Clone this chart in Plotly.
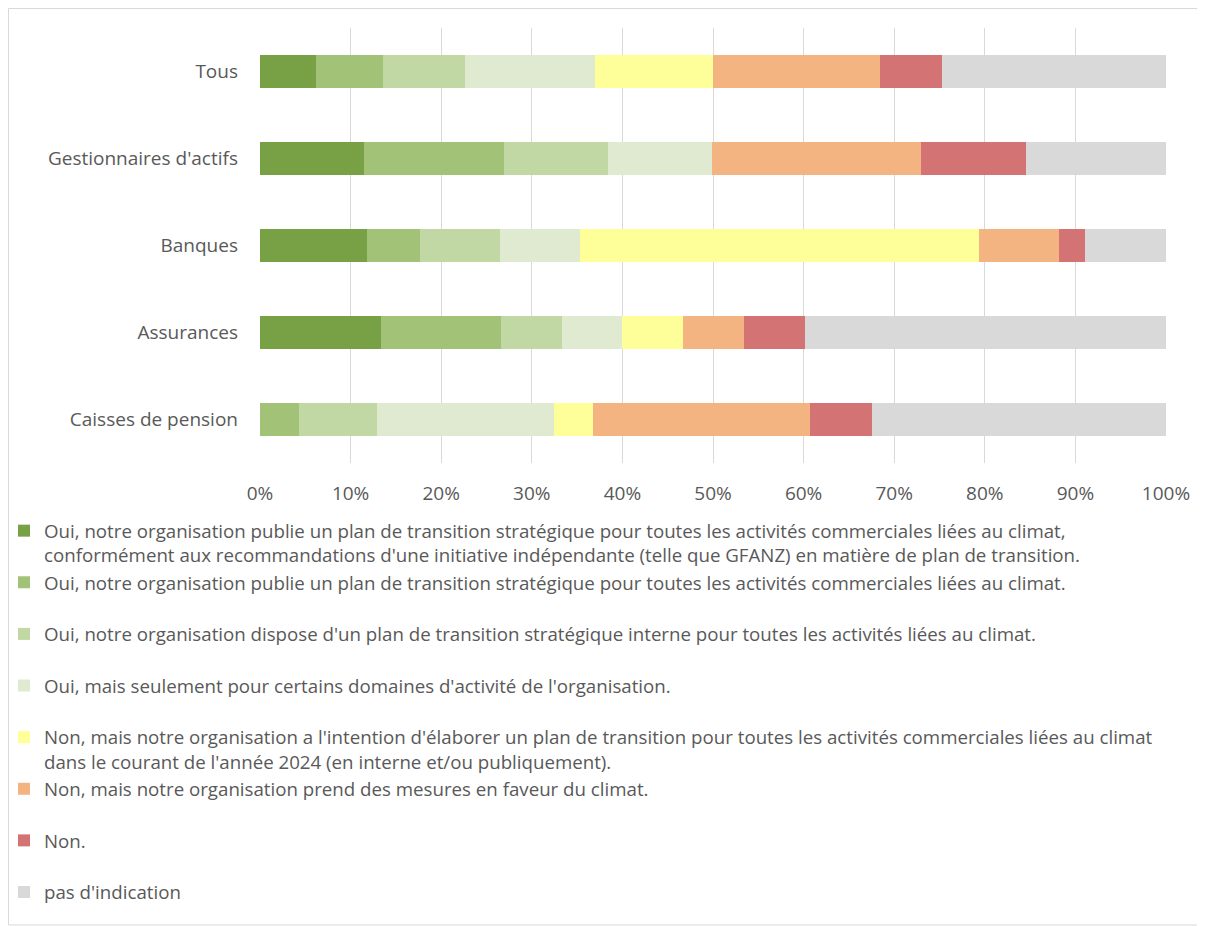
import plotly.graph_objects as go

categories = ["Tous", "Gestionnaires d'actifs", "Banques", "Assurances", "Caisses de pension"]

series_names = [
    "Oui, notre organisation publie un plan de transition stratégique pour toutes les activités commerciales liées au climat,<br>conformément aux recommandations d'une initiative indépendante (telle que GFANZ) en matière de plan de transition.",
    "Oui, notre organisation publie un plan de transition stratégique pour toutes les activités commerciales liées au climat.<br> ",
    "Oui, notre organisation dispose d'un plan de transition stratégique interne pour toutes les activités liées au climat.<br> ",
    "Oui, mais seulement pour certains domaines d'activité de l'organisation.<br> ",
    "Non, mais notre organisation a l'intention d'élaborer un plan de transition pour toutes les activités commerciales liées au climat<br>dans le courant de l'année 2024 (en interne et/ou publiquement).",
    "Non, mais notre organisation prend des mesures en faveur du climat.<br> ",
    "Non.<br> ",
    "pas d'indication<br> ",
]

s1 = [6.2, 11.5, 11.8, 13.3, 0.0]
s2 = [7.4, 15.4, 5.9, 13.3, 4.3]
s3 = [9.0, 11.5, 8.8, 6.7, 8.6]
s4 = [14.4, 11.5, 8.8, 6.7, 19.6]
s5 = [13.0, 0.0, 44.1, 6.7, 4.3]
s6 = [18.4, 23.1, 8.8, 6.7, 23.9]
s7 = [6.9, 11.5, 2.9, 6.7, 6.9]
s8 = [24.7, 15.5, 8.9, 39.9, 32.4]

series_values = [s1, s2, s3, s4, s5, s6, s7, s8]
colors = ["#78A044", "#A2C277", "#C1D8A4", "#DFEAD0", "#FFFF99", "#F4B482", "#D47374", "#D9D9D9"]

x_tickvals = [0, 10, 20, 30, 40, 50, 60, 70, 80, 90, 100]
x_ticktext = ["0%", "10%", "20%", "30%", "40%", "50%", "60%", "70%", "80%", "90%", "100%"]

FONT = "Open Sans"
FS = 19
LEG_FS = 18.7
TXT = "#595959"

# page is rendered with an 8px body margin; compensate
OFF = 8
PAGE_W, PAGE_H = 1205, 926
W, H = PAGE_W - OFF, PAGE_H - OFF
PLOT_L, PLOT_R, PLOT_T, PLOT_B = 260, 1166, 28, 463   # page coordinates
ML = PLOT_L - OFF
MR = W - (PLOT_R - OFF)
MT = PLOT_T - OFF
MB = H - (PLOT_B - OFF)

fig = go.Figure()
for i, (name, vals, col) in enumerate(zip(series_names, series_values, colors)):
    fig.add_trace(go.Bar(
        y=categories, x=vals, name=name, orientation="h",
        marker=dict(color=col, line=dict(width=0)),
        legendgroup=f"g{i}",
        hoverinfo="x+y",
    ))

pw = W - ML - MR
ph = H - MT - MB

def px_x(px):
    return (px - OFF - ML) / pw

def px_y(py):
    return 1 - (py - OFF - MT) / ph

fig.update_layout(
    width=W, height=H,
    barmode="stack",
    bargap=0.61,
    plot_bgcolor="white",
    paper_bgcolor="white",
    margin=dict(l=ML, r=MR, t=MT, b=MB, autoexpand=False),
    font=dict(family=FONT, size=FS, color=TXT),
    xaxis=dict(
        range=[0, 100], tickvals=x_tickvals, ticktext=x_ticktext,
        showgrid=True, gridcolor="#D9D9D9", gridwidth=1,
        zeroline=False, showline=False,
        ticklabelstandoff=17, tickangle=0,
        tickfont=dict(family=FONT, size=FS, color=TXT),
        fixedrange=True,
    ),
    yaxis=dict(
        categoryorder="array", categoryarray=categories, autorange="reversed",
        showgrid=False, zeroline=False, showline=False,
        ticklabelstandoff=21,
        tickfont=dict(family=FONT, size=FS, color=TXT),
        fixedrange=True,
    ),
    legend=dict(
        x=px_x(4), y=px_y(512), xanchor="left", yanchor="top",
        orientation="v", traceorder="grouped", tracegroupgap=0,
        valign="top",
        font=dict(family=FONT, size=LEG_FS, color=TXT),
        bgcolor="rgba(0,0,0,0)", borderwidth=0,
    ),
    shapes=[dict(
        type="rect", xref="paper", yref="paper",
        x0=px_x(8.5), x1=px_x(1203), y0=px_y(925), y1=px_y(8.5),
        line=dict(color="#D9D9D9", width=1), fillcolor="rgba(0,0,0,0)",
        layer="below",
    )],
)

fig.write_html("out.html")
